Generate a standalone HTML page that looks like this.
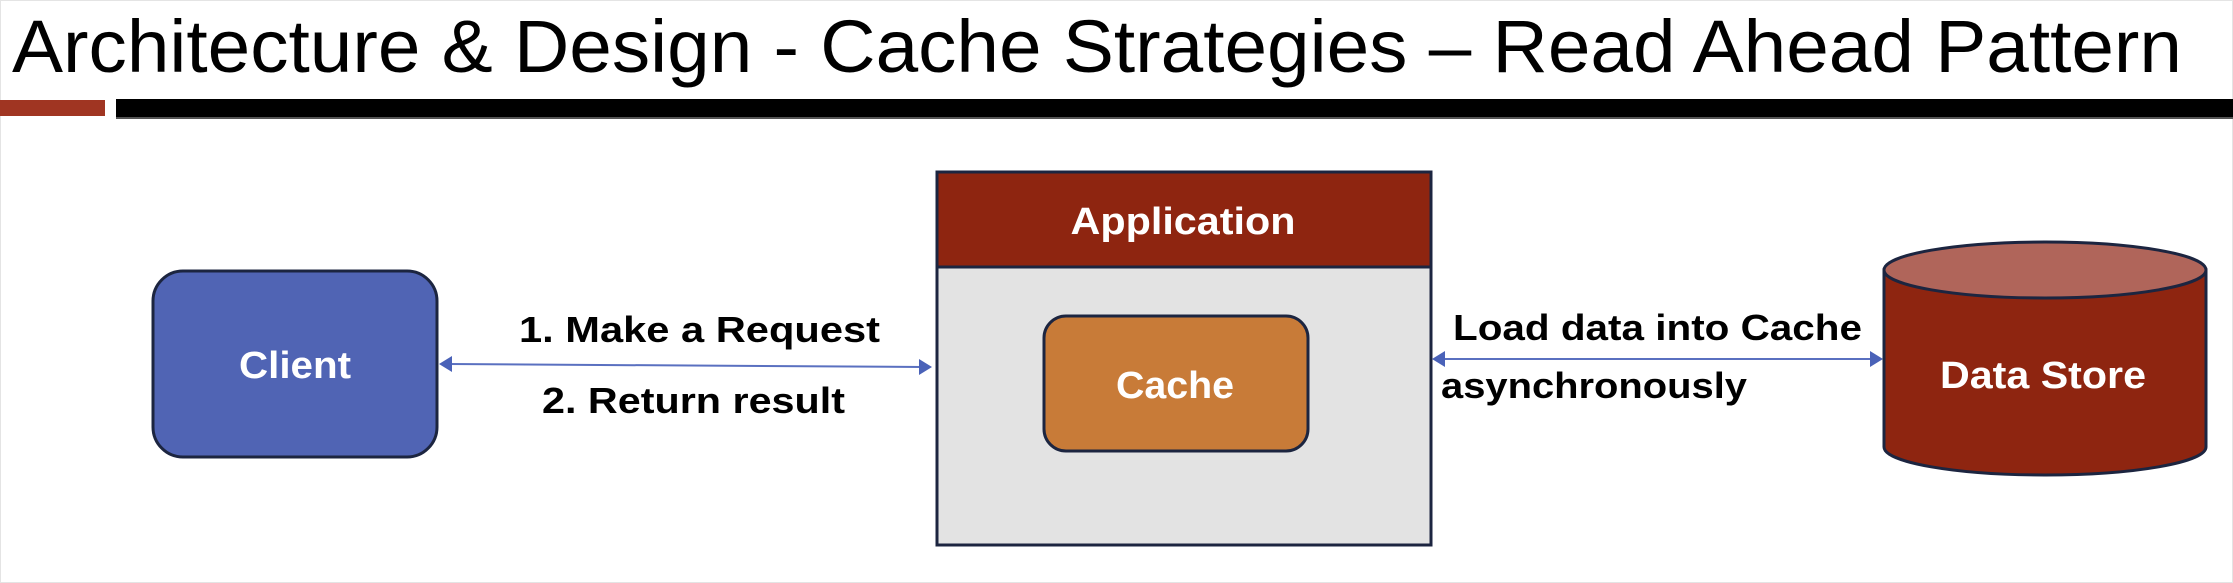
<!DOCTYPE html>
<html><head><meta charset="utf-8"><style>
html,body{margin:0;padding:0;background:#fff;}
svg{display:block;}
text{font-family:"Liberation Sans",sans-serif;}
</style></head><body>
<svg width="2233" height="583" viewBox="0 0 2233 583" xmlns="http://www.w3.org/2000/svg">
<rect x="0.5" y="0.5" width="2232" height="582" fill="#fff" stroke="#e4e4e4"/>
<text x="12" y="72" font-size="74" textLength="2170" lengthAdjust="spacingAndGlyphs" fill="#000">Architecture &amp; Design  - Cache Strategies – Read Ahead Pattern</text>
<rect x="0" y="100" width="105" height="16" fill="#a03522"/>
<rect x="116" y="99" width="2117" height="19" fill="#000"/>
<rect x="116" y="117" width="2117" height="2" fill="#555"/>

<!-- Client -->
<rect x="153" y="271" width="284" height="186" rx="30" fill="#5064b4" stroke="#1c2540" stroke-width="3"/>
<text x="295" y="378" font-size="38" font-weight="bold" fill="#fff" text-anchor="middle" textLength="112" lengthAdjust="spacingAndGlyphs">Client</text>

<!-- arrow 1 -->
<line x1="448" y1="364" x2="922" y2="367" stroke="#5a70c0" stroke-width="2"/>
<polygon points="439,364 452,356 452,372" fill="#4a62b8"/>
<polygon points="932,367 919,359 919,375" fill="#4a62b8"/>
<text x="519" y="342" font-size="36" font-weight="bold" fill="#000" textLength="361" lengthAdjust="spacingAndGlyphs">1. Make a Request</text>
<text x="542" y="413" font-size="36" font-weight="bold" fill="#000" textLength="303" lengthAdjust="spacingAndGlyphs">2. Return result</text>

<!-- Application -->
<rect x="937" y="172" width="494" height="373" fill="#e3e3e3" stroke="#1c2540" stroke-width="3"/>
<rect x="937" y="172" width="494" height="95" fill="#8e2510" stroke="#1c2540" stroke-width="3"/>
<text x="1183" y="234" font-size="38" font-weight="bold" fill="#fff" text-anchor="middle" textLength="225" lengthAdjust="spacingAndGlyphs">Application</text>

<rect x="1044" y="316" width="264" height="135" rx="22" fill="#c87b38" stroke="#1c2540" stroke-width="3"/>
<text x="1175" y="398" font-size="38" font-weight="bold" fill="#fff" text-anchor="middle" textLength="118" lengthAdjust="spacingAndGlyphs">Cache</text>

<!-- arrow 2 -->
<line x1="1442" y1="359" x2="1872" y2="359" stroke="#5a70c0" stroke-width="2"/>
<polygon points="1432,359 1445,351 1445,367" fill="#4a62b8"/>
<polygon points="1883,359 1870,351 1870,367" fill="#4a62b8"/>
<text x="1453" y="340" font-size="36" font-weight="bold" fill="#000" textLength="409" lengthAdjust="spacingAndGlyphs">Load data into Cache</text>
<text x="1441" y="398" font-size="36" font-weight="bold" fill="#000" textLength="306" lengthAdjust="spacingAndGlyphs">asynchronously</text>

<!-- Data store -->
<path d="M1884,270 L1884,447 A161,28 0 0 0 2206,447 L2206,270 Z" fill="#8e2510" stroke="#1c2540" stroke-width="3"/>
<ellipse cx="2045" cy="270" rx="161" ry="28" fill="#b0655a" stroke="#1c2540" stroke-width="3"/>
<text x="2043" y="388" font-size="38" font-weight="bold" fill="#fff" text-anchor="middle" textLength="206" lengthAdjust="spacingAndGlyphs">Data Store</text>
</svg>
</body></html>
